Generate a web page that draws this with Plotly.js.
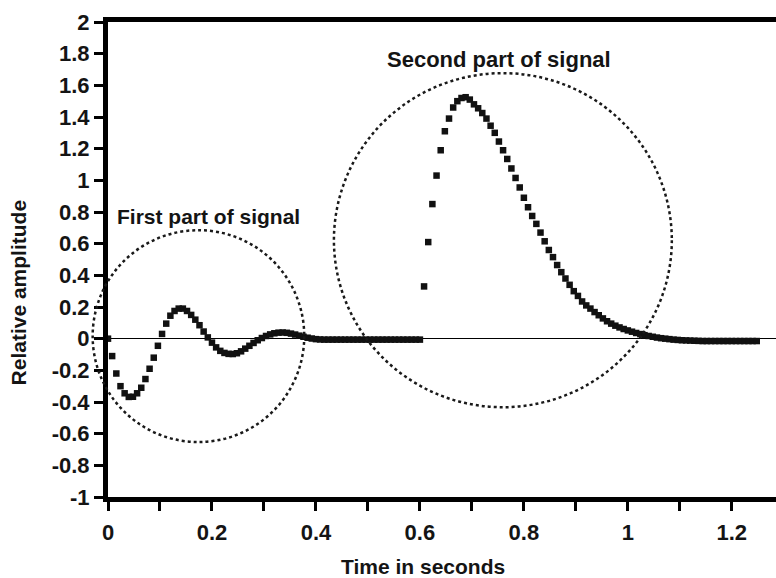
<!DOCTYPE html>
<html>
<head>
<meta charset="utf-8">
<script src="https://cdn.plot.ly/plotly-3.0.1.min.js"></script>
<style>
  html, body { margin: 0; padding: 0; background: #ffffff; overflow: hidden; }
  #chart { width: 776px; height: 578px; }
</style>
</head>
<body>
<div id="chart"></div>
<script>
// ---- Data ----
// Sampling interval of the signal (seconds)
const sampleStep = 0.008;

// First part of signal: samples starting at t = 0 s
const firstPartStart = 0;
const firstPartValues = [
  0, -0.11, -0.22, -0.30, -0.345, -0.368, -0.367, -0.345, -0.31, -0.255,
  -0.19, -0.12, -0.045, 0.03, 0.095, 0.145, 0.175, 0.19, 0.19, 0.175,
  0.15, 0.12, 0.085, 0.045, 0.008, -0.025, -0.055, -0.077, -0.09, -0.096,
  -0.097, -0.092, -0.08, -0.063, -0.045, -0.027, -0.01, 0.004, 0.017, 0.027,
  0.034, 0.038, 0.039, 0.037, 0.032, 0.026, 0.019, 0.012, 0.006, 0.001,
  -0.003, -0.005, -0.006, -0.006, -0.006, -0.006, -0.006, -0.006, -0.006, -0.006,
  -0.006, -0.006, -0.006, -0.006, -0.006, -0.006, -0.006, -0.006, -0.006, -0.006,
  -0.006, -0.006, -0.006, -0.006, -0.006, -0.006
];

// Second part of signal: samples starting at t = 0.608 s
const secondPartStart = 0.608;
const secondPartValues = [
  0.33, 0.61, 0.85, 1.03, 1.19, 1.31, 1.39, 1.46, 1.50, 1.52,
  1.525, 1.51, 1.48, 1.455, 1.425, 1.39, 1.345, 1.30, 1.245, 1.19,
  1.135, 1.075, 1.015, 0.955, 0.89, 0.83, 0.775, 0.725, 0.67, 0.615,
  0.56, 0.515, 0.465, 0.42, 0.38, 0.34, 0.30, 0.27, 0.235, 0.21,
  0.19, 0.168, 0.148, 0.128, 0.11, 0.095, 0.082, 0.071, 0.061, 0.052,
  0.044, 0.036, 0.029, 0.022, 0.017, 0.012, 0.007, 0.003, 0.0, -0.003,
  -0.006, -0.008, -0.01, -0.011, -0.012, -0.013, -0.014, -0.015, -0.015, -0.015,
  -0.015, -0.015, -0.015, -0.015, -0.015, -0.015, -0.015, -0.015, -0.015, -0.015,
  -0.015
];

// Tick labels
const xTickVals = [0, 0.2, 0.4, 0.6, 0.8, 1, 1.2];
const xTickText = ["0", "0.2", "0.4", "0.6", "0.8", "1", "1.2"];
const yTickVals = [-1, -0.8, -0.6, -0.4, -0.2, 0, 0.2, 0.4, 0.6, 0.8, 1, 1.2, 1.4, 1.6, 1.8, 2];
const yTickText = ["-1", "-0.8", "-0.6", "-0.4", "-0.2", "0", "0.2", "0.4", "0.6", "0.8", "1", "1.2", "1.4", "1.6", "1.8", "2"];

// Texts
const xTitle = "Time in seconds";
const yTitle = "Relative amplitude";
const firstLabel = "First part of signal";
const secondLabel = "Second part of signal";

// Highlight circles (centre and radii in data units)
const firstCircle = { cx: 0.174, cy: 0.016, rx: 0.2035, ry: 0.669 };
const secondCircle = { cx: 0.7596, cy: 0.622, rx: 0.325, ry: 1.055 };

// ---- Chart ----
const xRange = [0, 1.285];
const yRange = [-1, 2];

function toPaperX(v) { return (v - xRange[0]) / (xRange[1] - xRange[0]); }
function toPaperY(v) { return (v - yRange[0]) / (yRange[1] - yRange[0]); }
function circleShape(c) {
  return {
    type: 'circle', xref: 'paper', yref: 'paper',
    x0: toPaperX(c.cx - c.rx), x1: toPaperX(c.cx + c.rx),
    y0: toPaperY(c.cy - c.ry), y1: toPaperY(c.cy + c.ry),
    line: { color: '#1a1a1a', width: 2.5, dash: 'dot' },
    layer: 'above'
  };
}

const markerStyle = { symbol: 'square', size: 6.5, color: '#111111', line: { width: 0 } };

const traces = [
  {
    type: 'scatter', mode: 'markers', name: firstLabel,
    x0: firstPartStart, dx: sampleStep, y: firstPartValues,
    marker: markerStyle, hoverinfo: 'x+y'
  },
  {
    type: 'scatter', mode: 'markers', name: secondLabel,
    x0: secondPartStart, dx: sampleStep, y: secondPartValues,
    marker: markerStyle, hoverinfo: 'x+y'
  }
];

const fontFamily = '"Liberation Sans", Arial, Helvetica, sans-serif';
const textColor = '#141414';

const layout = {
  width: 776, height: 578,
  margin: { l: 108, r: 0, t: 22, b: 81, pad: 0 },
  paper_bgcolor: '#ffffff', plot_bgcolor: '#ffffff',
  showlegend: false,
  font: { family: fontFamily, color: textColor },
  xaxis: {
    range: xRange, showgrid: false, zeroline: false,
    showline: true, linecolor: '#000000', linewidth: 5, mirror: true,
    ticks: 'outside', ticklen: 9, tickwidth: 3, tickcolor: '#000000',
    tickmode: 'array', tickvals: xTickVals, ticktext: xTickText,
    ticklabelstandoff: 3,
    minor: { dtick: 0.1, tick0: 0, ticks: 'outside', ticklen: 9, tickwidth: 3, tickcolor: '#000000', showgrid: false },
    tickfont: { family: fontFamily, size: 22, color: textColor, weight: 'bold' },
    fixedrange: true
  },
  yaxis: {
    range: yRange, showgrid: false,
    zeroline: true, zerolinecolor: '#000000', zerolinewidth: 1.6,
    showline: true, linecolor: '#000000', linewidth: 5, mirror: false,
    ticks: 'outside', ticklen: 9, tickwidth: 3, tickcolor: '#000000',
    tickmode: 'array', tickvals: yTickVals, ticktext: yTickText,
    tickfont: { family: fontFamily, size: 22, color: textColor, weight: 'bold' },
    fixedrange: true
  },
  shapes: [circleShape(firstCircle), circleShape(secondCircle)],
  annotations: [
    {
      text: firstLabel, xref: 'x', yref: 'y', x: 0.013, y: 0.77,
      xanchor: 'left', yanchor: 'middle', showarrow: false,
      font: { family: fontFamily, size: 21, color: textColor, weight: 'bold' }
    },
    {
      text: secondLabel, xref: 'x', yref: 'y', x: 0.752, y: 1.765,
      xanchor: 'center', yanchor: 'middle', showarrow: false,
      font: { family: fontFamily, size: 22, color: textColor, weight: 'bold' }
    },
    {
      text: xTitle, xref: 'x', yref: 'paper', x: 0.605, y: -0.146,
      xanchor: 'center', yanchor: 'middle', showarrow: false,
      font: { family: fontFamily, size: 21, color: textColor, weight: 'bold' }
    },
    {
      text: yTitle, xref: 'paper', yref: 'y', x: -0.134, y: 0.295,
      xanchor: 'center', yanchor: 'middle', showarrow: false, textangle: -90,
      font: { family: fontFamily, size: 21, color: textColor, weight: 'bold' }
    }
  ]
};

Plotly.newPlot('chart', traces, layout, { displayModeBar: false, staticPlot: true });
</script>
</body>
</html>
